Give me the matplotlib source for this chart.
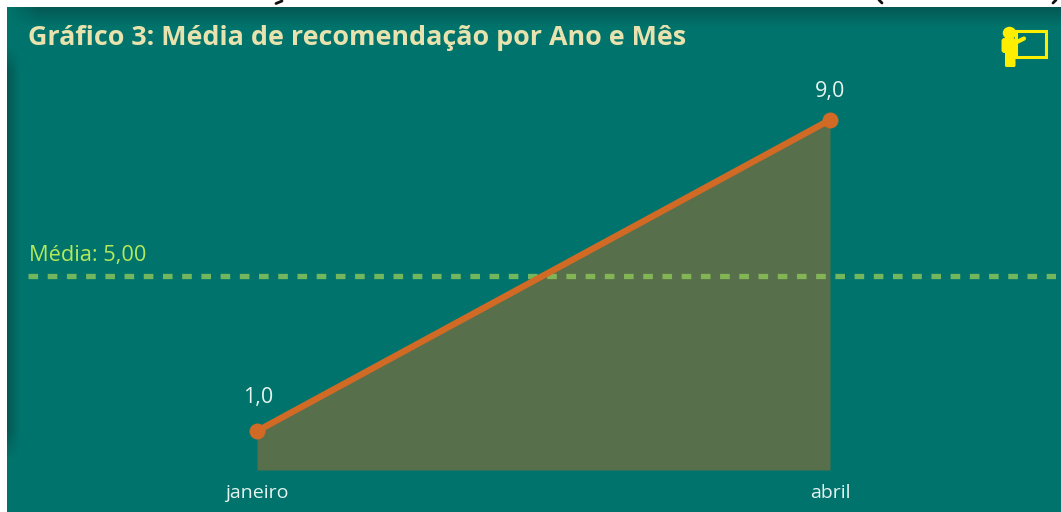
import numpy as np
import matplotlib
matplotlib.use("Agg")
import matplotlib.pyplot as plt
from matplotlib.patches import Rectangle, Ellipse, FancyBboxPatch

# values
months = ["janeiro", "abril"]
recomendacao = [1.0, 9.0]
media = 5.00

W, H = 1061, 512
BG = "#00746c"
FONT = ["Open Sans", "DejaVu Sans"]

fig = plt.figure(figsize=(W / 100, H / 100), dpi=100, facecolor="white")

# pixel layer for card, shadow and icon
bg = fig.add_axes([0, 0, 1, 1])
bg.axis("off")
bg.add_patch(Rectangle((7, 7), W - 7, H - 7, color=BG, lw=0))

# soft dark shadow along the top and left edges of the card
px, py = np.meshgrid(np.arange(7, W), np.arange(7, H))
top_a = np.clip(1 - (py - 7) / 20, 0, 1) * np.clip((px - 7) / 30, 0, 1)
left_a = np.clip(1 - (px - 7) / 13, 0, 1) * np.clip((py - 45) / 25, 0, 1) * np.clip((460 - py) / 30, 0, 1)
shadow = np.zeros(px.shape + (4,))
shadow[..., :3] = matplotlib.colors.to_rgb("#06524f")
shadow[..., 3] = np.maximum(top_a, left_a) * 0.8
bg.imshow(shadow, extent=(7, W, H, 7), aspect="auto", zorder=1)
bg.set_xlim(0, W)
bg.set_ylim(H, 0)

# cut-off remains of a heading above the card
for xs, ys in [((276, 282), (3.5, 1)), ((879, 882), (0, 3)), ((1053, 1056), (3, 0))]:
    bg.plot(xs, ys, color="#111111", lw=2, solid_capstyle="round", zorder=2)

# icon
YEL = "#ffee00"
bg.add_patch(Rectangle((1016, 30.5), 29.5, 26.5, fill=False, ec=YEL, lw=2.2, zorder=3))
bg.add_patch(Ellipse((1009.5, 33), 13.5, 12.5, color=YEL, lw=0, zorder=3))
bg.add_patch(FancyBboxPatch((1001.5, 38), 14.5, 15, boxstyle="round,pad=0,rounding_size=3", color=YEL, lw=0, zorder=3))
bg.add_patch(FancyBboxPatch((1005, 45), 10.5, 22, boxstyle="round,pad=0,rounding_size=1.5", color=YEL, lw=0, zorder=3))
bg.plot([1013, 1024], [44, 38.5], color=YEL, lw=3, solid_capstyle="round", zorder=3)

bg.text(28, 38, "Gráfico 3: Média de recomendação por Ano e Mês", color="#e8e3ae", fontsize=19.4,
        fontweight="bold", family=FONT, va="center", ha="left", zorder=3)

# chart axes, placed so that janeiro/abril and the 0 baseline land as in the picture
px_x = 573.0
px_y = 38.9
x0, x1 = 28, 1056
y0, y1 = 470, 70
ax = fig.add_axes([x0 / W, 1 - y0 / H, (x1 - x0) / W, (y0 - y1) / H])
ax.patch.set_alpha(0)
ax.set_xlim((x0 - 257) / px_x, (x1 - 257) / px_x)
ax.set_ylim(0, (y0 - y1) / px_y)
for s in ax.spines.values():
    s.set_visible(False)

x = np.arange(len(months))
ax.fill_between(x, recomendacao, 0, color="#d2691e", alpha=0.42, lw=0, zorder=2)
ax.axhline(media, color="#8fc85a", lw=3.8, alpha=0.8, dashes=(1.82, 1.82), zorder=3)
ax.plot(x, recomendacao, color="#d06a24", lw=4.6, marker="o", ms=11.5, mew=0, zorder=4, solid_capstyle="round")

label_offsets = [(1.5, 23), (0, 18)]
for xi, v, off in zip(x, recomendacao, label_offsets):
    ax.annotate(f"{v:.1f}".replace(".", ","), (xi, v), xytext=off, textcoords="offset pixels",
                color="#e6f3ee", fontsize=15.5, family=FONT, ha="center", va="bottom")

ax.annotate(f"Média: {media:.2f}".replace(".", ","), (0, media), xycoords=("axes fraction", "data"),
            xytext=(1, 9), textcoords="offset pixels", color="#b4ea5a", fontsize=15.7, family=FONT,
            ha="left", va="bottom")

ax.set_xticks(x, months)
ax.set_yticks([])
ax.tick_params(axis="x", length=0, pad=10, colors="#e6f3ee", labelsize=14)
for t in ax.get_xticklabels():
    t.set_family(FONT)

fig.savefig("out.png", dpi=100, facecolor=fig.get_facecolor())
